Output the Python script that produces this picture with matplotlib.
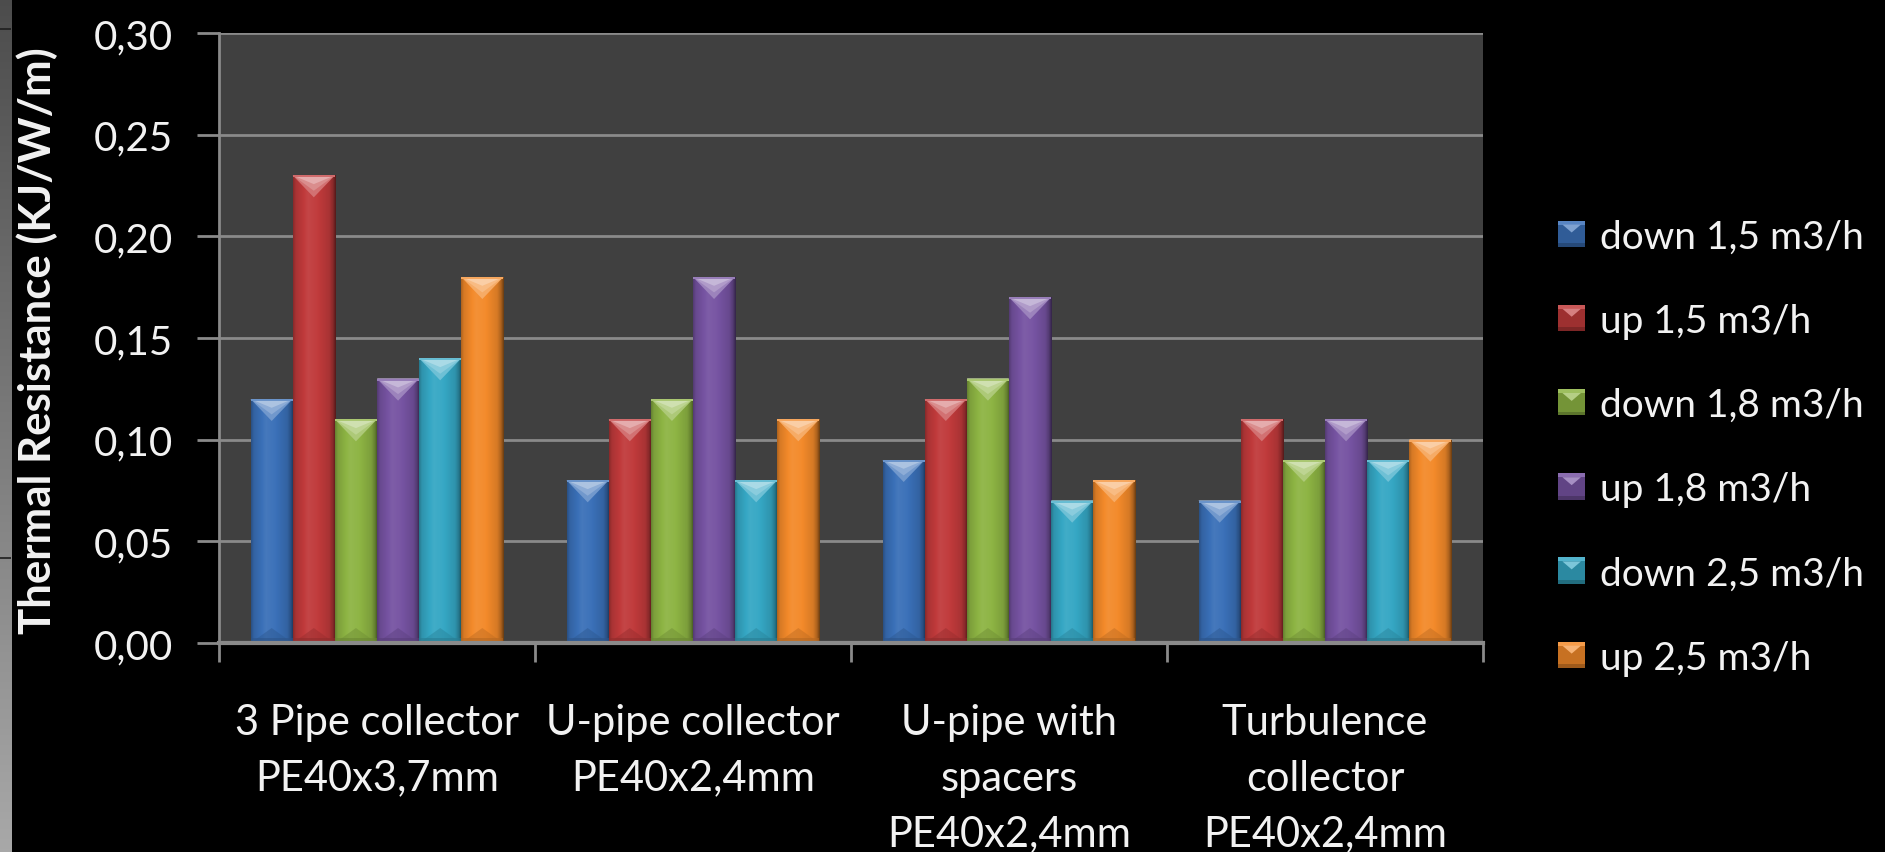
import numpy as np
import matplotlib
matplotlib.use("Agg")
import matplotlib.pyplot as plt
from matplotlib.patches import Rectangle, Polygon
from matplotlib.legend_handler import HandlerPatch
from matplotlib.colors import to_rgb

# ---- data -----------------------------------------------------------------
categories = [
    "3 Pipe collector\nPE40x3,7mm",
    "U-pipe collector\nPE40x2,4mm",
    "U-pipe with\nspacers\nPE40x2,4mm",
    "Turbulence\ncollector\nPE40x2,4mm",
]
series_names = ["down 1,5 m3/h", "up 1,5 m3/h", "down 1,8 m3/h",
                "up 1,8 m3/h", "down 2,5 m3/h", "up 2,5 m3/h"]
down_1_5 = [0.12, 0.08, 0.09, 0.07]
up_1_5 = [0.23, 0.11, 0.12, 0.11]
down_1_8 = [0.11, 0.12, 0.13, 0.09]
up_1_8 = [0.13, 0.18, 0.17, 0.11]
down_2_5 = [0.14, 0.08, 0.07, 0.09]
up_2_5 = [0.18, 0.11, 0.08, 0.10]
series_values = [down_1_5, up_1_5, down_1_8, up_1_8, down_2_5, up_2_5]
series_colors = ["#3a70b8", "#c03a3b", "#8db443", "#7653a2", "#35a7c4", "#f38a2a"]
y_ticks = [0.00, 0.05, 0.10, 0.15, 0.20, 0.25, 0.30]
y_tick_labels = ["0,00", "0,05", "0,10", "0,15", "0,20", "0,25", "0,30"]
y_label = "Thermal Resistance (KJ/W/m)"

FONT = "Lato"
TXT = "#f2f2f2"
GRID = "#8a8a8a"


def shade(rgb, f):
    rgb = np.asarray(rgb, dtype=float)
    if f <= 1:
        return rgb * f
    return rgb + (1 - rgb) * (f - 1)


# ---- figure ---------------------------------------------------------------
W, H, DPI = 1885, 853, 100
fig = plt.figure(figsize=(W / DPI, H / DPI), dpi=DPI, facecolor="black")

# grey window strip on the left border
strip = fig.add_axes([0, 0, 11 / W, 1])
grad = np.linspace(0.30, 0.66, 256)[:, None]
strip.imshow(np.dstack([grad, grad, grad]), aspect="auto", extent=[0, 1, 0, 1],
             origin="upper")
for yy in (30, 559):
    strip.axhline(1 - yy / H, color="#1e1e1e", lw=1.2)
strip.set_axis_off()

ax = fig.add_axes([219 / W, 209 / H, (1483 - 219) / W, 610 / H])
ax.set_facecolor("#404040")

n_series = len(series_values)
group_w = 0.8
bar_w = group_w / n_series
x = np.arange(len(categories))

ax.set_xlim(-0.5, len(categories) - 0.5)
ax.set_ylim(0, 0.30)

ax_h_px = 610
px_to_data = 0.30 / ax_h_px

# horizontal shading profile across a bar (left edge -> right edge)
prof_x = np.linspace(0, 1, 64)
prof = np.interp(prof_x, [0, 0.06, 0.35, 0.55, 0.85, 0.94, 1.0],
                 [0.72, 0.88, 1.06, 1.02, 0.88, 0.70, 0.45])

for i, (vals, col) in enumerate(zip(series_values, series_colors)):
    offs = x - group_w / 2 + bar_w * (i + 0.5)
    bars = ax.bar(offs, vals, width=bar_w, color=col, edgecolor="none", zorder=3,
                  label=series_names[i])
    base = to_rgb(col)
    img = np.array([[shade(base, f) for f in prof]])
    img = np.clip(img, 0, 1)
    for b in bars:
        x0, w, h = b.get_x(), b.get_width(), b.get_height()
        im = ax.imshow(img, extent=[x0, x0 + w, 0, h], aspect="auto",
                       interpolation="bilinear", zorder=4)
        im.set_clip_path(b)
        # bevel highlight at the top: nested triangles, lighter toward the top
        depth = 22 * px_to_data
        for k, (frac, lift) in enumerate([(1.0, 0.28), (0.7, 0.42), (0.4, 0.58)]):
            d = depth * frac
            tri = Polygon([(x0, h), (x0 + w, h), (x0 + w / 2, h - d)],
                          closed=True, facecolor=shade(base, 1 + lift),
                          edgecolor="none", zorder=5 + k * 0.1)
            ax.add_patch(tri)
        ax.add_patch(Rectangle((x0, h - 2 * px_to_data), w, 2 * px_to_data,
                               facecolor=shade(base, 1.25), edgecolor="none", zorder=5.5))
        # soft bevel at the bottom
        bd = 15 * px_to_data
        ax.add_patch(Polygon([(x0, 0), (x0 + w, 0), (x0 + w / 2, bd)], closed=True,
                             facecolor=shade(base, 0.80), edgecolor="none",
                             alpha=0.5, zorder=5))
        ax.add_patch(Rectangle((x0, 0), w, 5 * px_to_data, facecolor=shade(base, 0.75),
                               edgecolor="none", alpha=0.6, zorder=5))

# axes styling
ax.set_yticks(y_ticks)
ax.set_yticklabels(y_tick_labels, fontsize=29, family=FONT, color=TXT)
ax.yaxis.grid(True, color=GRID, lw=2.0, zorder=1)
ax.set_axisbelow(True)
ax.tick_params(axis="y", length=16, width=2, color=GRID, pad=17)

ax.set_xticks(x)
ax.set_xticklabels(categories, fontsize=30, family=FONT, color=TXT,
                   linespacing=1.58, va="top", ha="center", multialignment="center")
ax.tick_params(axis="x", which="major", length=0, pad=43)
ax.set_xticks(np.arange(-0.5, len(categories)), minor=True)
ax.tick_params(axis="x", which="minor", length=14, width=2, color=GRID)

for s in ("top", "right"):
    ax.spines[s].set_visible(False)
ax.spines["left"].set_color(GRID)
ax.spines["left"].set_linewidth(2)
ax.spines["bottom"].set_color(GRID)
ax.spines["bottom"].set_linewidth(3)
ax.spines["bottom"].set_zorder(6)

fig.text(37 / W, 1 - 341 / H, y_label, rotation=90, ha="center", va="center",
         fontsize=31.5, fontweight="bold", family=FONT, color=TXT)


# ---- legend ---------------------------------------------------------------
class BevelSquareHandler(HandlerPatch):
    def create_artists(self, legend, orig_handle, xdescent, ydescent, width,
                       height, fontsize, trans):
        base = to_rgb(orig_handle.get_facecolor())
        s = min(width, height)
        x0 = -xdescent + (width - s) / 2
        y0 = -ydescent + (height - s) / 2
        sq = Rectangle((x0, y0), s, s, facecolor=shade(base, 0.82),
                       edgecolor="none", transform=trans)
        band = Rectangle((x0, y0 + s * 0.85), s, s * 0.15,
                         facecolor=shade(base, 1.15), edgecolor="none", transform=trans)
        tri = Polygon([(x0 + s * 0.15, y0 + s * 0.85), (x0 + s * 0.85, y0 + s * 0.85),
                       (x0 + s / 2, y0 + s * 0.55)], closed=True,
                      facecolor=shade(base, 1.35), edgecolor="none", transform=trans)
        bot = Rectangle((x0, y0), s, s * 0.15, facecolor=shade(base, 0.65),
                        edgecolor="none", transform=trans)
        return [sq, band, tri, bot]


handles = [Rectangle((0, 0), 1, 1, facecolor=c) for c in series_colors]
leg = fig.legend(handles, series_names, loc="center left",
                 bbox_to_anchor=(1539 / W, 1 - 448 / H), frameon=False,
                 prop={"family": FONT, "size": 28}, labelcolor=TXT,
                 handlelength=0.68, handleheight=0.68, handletextpad=0.4,
                 labelspacing=1.24, borderpad=0,
                 handler_map={Rectangle: BevelSquareHandler()})

fig.savefig("out.png", dpi=DPI, facecolor="black")
